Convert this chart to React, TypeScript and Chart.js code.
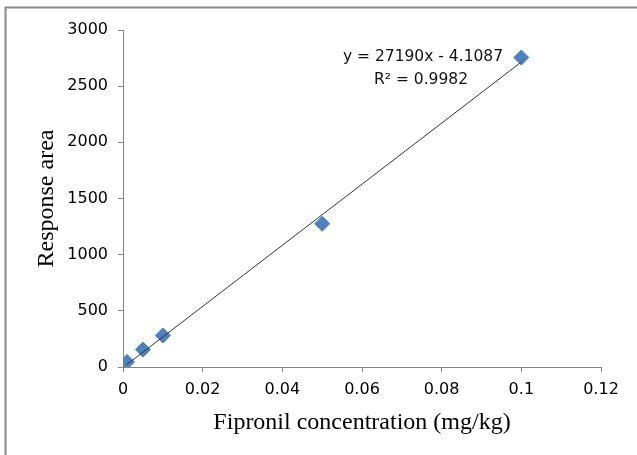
import { useEffect, useRef } from 'react';
import { Chart, registerables } from 'chart.js';

Chart.register(...registerables);

// Data
const concentrations = [0.001, 0.005, 0.01, 0.05, 0.1];
const responseAreas = [45, 155, 280, 1275, 2755];

// Linear trendline shown in the chart
const trendSlope = 27190;
const trendIntercept = -4.1087;
const rSquared = 0.9982;

// Tick labels
const xTickLabels = ['0', '0.02', '0.04', '0.06', '0.08', '0.1', '0.12'];
const yTickLabels = ['0', '500', '1000', '1500', '2000', '2500', '3000'];

const xTitle = 'Fipronil concentration (mg/kg)';
const yTitle = 'Response area';

const TICK_FONT = { family: '"DejaVu Sans", sans-serif', size: 16 };
const TITLE_FONT = { family: '"Liberation Serif", serif', size: 24 };

const framePlugin = {
  id: 'frame',
  beforeDraw(chart: any) {
    const { ctx, width, height } = chart;
    ctx.save();
    ctx.fillStyle = '#ffffff';
    ctx.fillRect(0, 0, width, height);
    ctx.strokeStyle = '#8a8a8a';
    ctx.lineWidth = 2;
    ctx.beginPath();
    ctx.moveTo(width, 7.5);
    ctx.lineTo(5.5, 7.5);
    ctx.lineTo(5.5, height);
    ctx.stroke();
    ctx.restore();
  },
};

const equationPlugin = {
  id: 'equation',
  afterDraw(chart: any) {
    const { ctx, chartArea } = chart;
    const sign = trendIntercept < 0 ? '-' : '+';
    const line1 = `y = ${trendSlope}x ${sign} ${Math.abs(trendIntercept)}`;
    const line2 = `R\u00B2 = ${rSquared}`;
    ctx.save();
    ctx.fillStyle = '#111111';
    ctx.font = '15.5px "DejaVu Sans", sans-serif';
    ctx.textAlign = 'center';
    ctx.textBaseline = 'middle';
    ctx.fillText(line1, chartArea.right - 178, chartArea.top + 27);
    ctx.fillText(line2, chartArea.right - 180, chartArea.top + 50);
    ctx.restore();
  },
};

export default function App() {
  const canvasRef = useRef<HTMLCanvasElement>(null);

  useEffect(() => {
    document.body.style.margin = '0';
    const canvas = canvasRef.current;
    if (!canvas) return;

    const xMin = Math.min(...concentrations);
    const xMax = Math.max(...concentrations);
    const trendPoints = [xMin, xMax].map((x) => ({ x, y: trendSlope * x + trendIntercept }));
    const points = concentrations.map((x, i) => ({ x, y: responseAreas[i] }));

    const chart = new Chart(canvas, {
      type: 'scatter',
      data: {
        datasets: [
          {
            type: 'line',
            data: trendPoints,
            borderColor: '#333333',
            borderWidth: 1,
            pointRadius: 0,
            fill: false,
            order: 0,
          } as any,
          {
            data: points,
            pointStyle: 'rectRot',
            pointRadius: 7.5,
            backgroundColor: '#4F81BD',
            borderColor: '#4A7EBB',
            borderWidth: 1,
            order: 1,
          },
        ],
      },
      options: {
        responsive: false,
        animation: false,
        events: [],
        layout: { padding: { left: 0, right: 36, top: 30, bottom: 0 } },
        plugins: {
          legend: { display: false },
          tooltip: { enabled: false },
        },
        scales: {
          x: {
            type: 'linear',
            min: 0,
            max: 0.12,
            afterFit: (s: any) => {
              s.height = 88;
            },
            ticks: {
              stepSize: 0.02,
              maxRotation: 0,
              autoSkip: false,
              padding: 8,
              color: '#000000',
              font: TICK_FONT,
              callback: (_v: any, i: number) => xTickLabels[i],
            },
            grid: {
              drawOnChartArea: false,
              drawTicks: true,
              tickLength: 5,
              color: '#868686',
            },
            border: { color: '#868686', width: 1 },
            title: {
              display: true,
              text: xTitle,
              color: '#000000',
              font: TITLE_FONT,
              padding: { top: 0, bottom: 18 },
            },
          },
          y: {
            type: 'linear',
            min: 0,
            max: 3000,
            afterFit: (s: any) => {
              s.width = 123;
            },
            ticks: {
              stepSize: 500,
              padding: 10,
              color: '#000000',
              font: TICK_FONT,
              callback: (_v: any, i: number) => yTickLabels[i],
            },
            grid: {
              drawOnChartArea: false,
              drawTicks: true,
              tickLength: 5,
              color: '#868686',
            },
            border: { color: '#868686', width: 1 },
            title: {
              display: true,
              text: yTitle,
              color: '#000000',
              font: TITLE_FONT,
              padding: { top: 32, bottom: 0 },
            },
          },
        },
      },
      plugins: [framePlugin, equationPlugin],
    });

    return () => chart.destroy();
  }, []);

  return <canvas ref={canvasRef} width={637} height={455} style={{ display: 'block' }} />;
}
